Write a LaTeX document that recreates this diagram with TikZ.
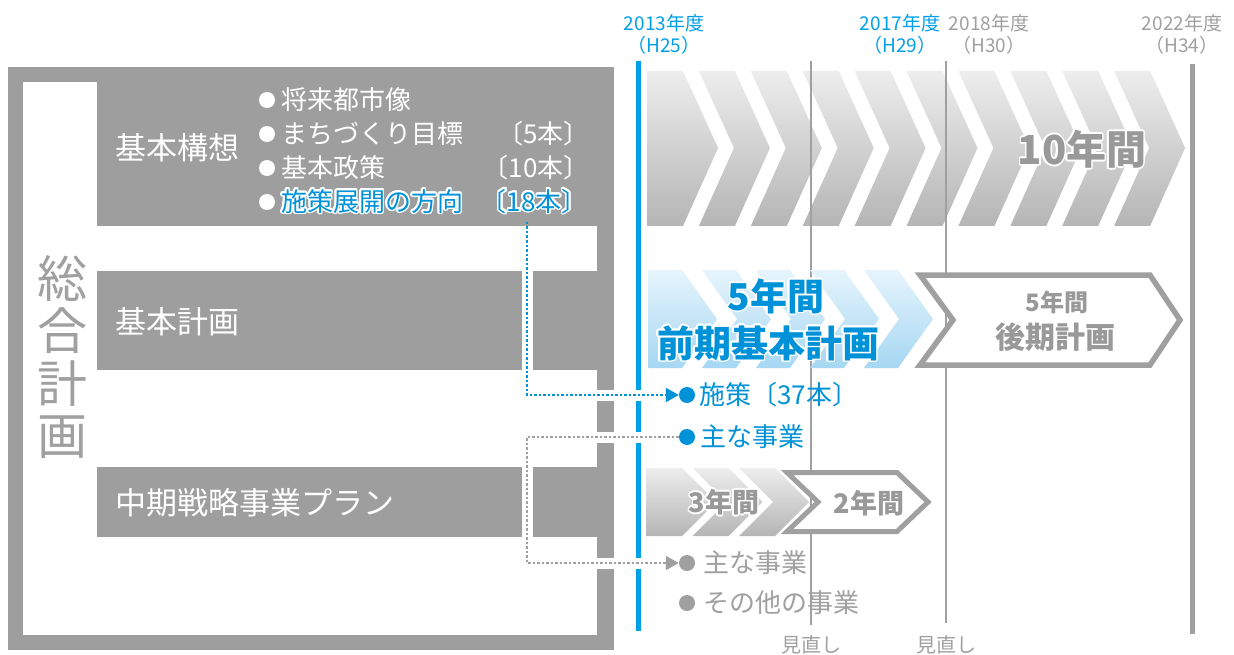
\documentclass[tikz,border=0pt]{standalone}
\usepackage{fontspec}
\setmainfont{Noto Sans CJK JP}
\usepackage[copies]{contour}
\contourlength{1.6pt}
\contournumber{16}
\usetikzlibrary{arrows.meta}
\definecolor{fr}{HTML}{9E9E9E}
\definecolor{tg}{HTML}{A0A0A0}
\definecolor{dg}{HTML}{999999}
\definecolor{bl}{HTML}{00A0E9}
\definecolor{bt}{HTML}{0092D8}
\definecolor{gtop}{HTML}{EDEDED}
\definecolor{gbot}{HTML}{B5B5B5}
\definecolor{btop}{HTML}{E6F4FC}
\definecolor{bbot}{HTML}{A6D7F3}
\newcommand{\FSz}[1]{\fontsize{#1}{#1}\selectfont}
\begin{document}
\begin{tikzpicture}[x=1pt,y=-1pt,
  wt/.style={inner sep=0pt, text=white},
  gl/.style={inner sep=0pt, text=tg},
  bdot/.style={circle, inner sep=0pt, minimum size=16pt},
  halo/.style={white, line width=11pt},
  bdots/.style={bt, line width=2.2pt, dash pattern=on 2.5pt off 2pt, -{Triangle[width=14pt,length=13pt]}},
  gdots/.style={tg, line width=2pt, dash pattern=on 2.5pt off 2pt, -{Triangle[width=14pt,length=13pt]}},
  thin/.style={tg, line width=1.3pt},
  thick/.style={line width=5pt},
  outl/.style={tg, line width=5.5pt, fill=white, line join=miter}
]
\useasboundingbox (0,0) rectangle (1234,655);
\fill[white] (0,0) rectangle (1234,655);

% frame and boxes
\fill[fr] (8,67) rectangle (614,650);
\fill[white] (23,82) rectangle (597,635);
\fill[fr] (97,82) rectangle (597,226);
\fill[fr] (97,271) rectangle (597,370);
\fill[fr] (97,467) rectangle (597,537);

% vertical title
\node[gl, font=\FSz{50}] (s1) at (62,278) {総};
\node[gl, font=\FSz{50}] (s2) at (62,331) {合};
\node[gl, font=\FSz{50}] (s3) at (62,384) {計};
\node[gl, font=\FSz{50}] (s4) at (62,437) {画};

% box texts
\node[wt, font=\FSz{31}, anchor=west] (kk) at (115,148) {基本構想};
\node[wt, font=\FSz{31}, anchor=west] (kp) at (115,322) {基本計画};
\node[wt, font=\FSz{31}, anchor=west] (cp) at (115,503) {中期戦略事業プラン};

% bullets of kihon koso
\node[bdot, fill=white] (d1) at (267,100) {};
\node[wt, font=\FSz{26}, anchor=west] (t1) at (281,100) {将来都市像};
\node[bdot, fill=white] (d2) at (267,134) {};
\node[wt, font=\FSz{26}, anchor=west] (t2) at (281,134) {まちづくり目標};
\node[wt, font=\FSz{26}, anchor=east] (n2) at (590,134) {〔5本〕};
\node[bdot, fill=white] (d3) at (267,168) {};
\node[wt, font=\FSz{26}, anchor=west] (t3) at (281,168) {基本政策};
\node[wt, font=\FSz{26}, anchor=east] (n3) at (590,168) {〔10本〕};
\node[bdot, fill=white] (d4) at (267,202) {};
\node[inner sep=0pt, text=bt, font=\FSz{26}, anchor=west] (t4) at (281,202) {\contour{white}{施策展開の方向}};
\node[inner sep=0pt, text=bt, font=\FSz{26}, anchor=east] (n4) at (588,202) {\contour{white}{〔18本〕}};

% 10-year chevrons
\shade[top color=gtop, bottom color=gbot] (647,71) -- (683,71) -- (718,148) -- (683,226) -- (647,226) -- cycle;
\foreach \i in {1,...,9}{
  \pgfmathsetmacro\xa{647+\i*51.9}
  \shade[top color=gtop, bottom color=gbot] (\xa,71) -- ++(36,0) -- ++(35,77) -- ++(-35,78) -- ++(-36,0) -- ++(35,-78) -- cycle;
}

% timeline lines
\draw[bl, thick] (638,61) -- (638,631);
\draw[thin] (811,61) -- (811,625);
\draw[thin] (946,61) -- (946,623);
\draw[tg, thick] (1192,64) -- (1192,634);

% blue 5-year chevrons
\shade[top color=btop, bottom color=bbot] (648,270) -- (682,270) -- (717,319) -- (682,368) -- (648,368) -- cycle;
\foreach \i in {1,...,4}{
  \pgfmathsetmacro\xa{648+\i*54}
  \shade[top color=btop, bottom color=bbot] (\xa,270) -- ++(34,0) -- ++(35,49) -- ++(-35,49) -- ++(-34,0) -- ++(35,-49) -- cycle;
}
% later plan outline
\draw[outl] (920,275) -- (1150,275) -- (1180,320) -- (1150,365) -- (920,365) -- (953,320) -- cycle;

% small gray chevrons
\shade[top color=gtop, bottom color=gbot] (646,468) -- (682,468) -- (716,502) -- (682,536) -- (646,536) -- cycle;
\foreach \i in {1,2}{
  \pgfmathsetmacro\xa{646+\i*46.5}
  \shade[top color=gtop, bottom color=gbot] (\xa,468) -- ++(36,0) -- ++(34,34) -- ++(-34,34) -- ++(-36,0) -- ++(34,-34) -- cycle;
}
\draw[outl, line width=5pt] (787,472.5) -- (897,472.5) -- (928,502) -- (897,531.5) -- (787,531.5) -- (818,502) -- cycle;

% big labels
\node[inner sep=0pt, text=dg, font=\FSz{40}\bfseries] (ten) at (1082,150) {\contour{white}{10年間}};
\node[inner sep=0pt, text=bt, font=\FSz{37}\bfseries] (f5) at (776,297) {\contour{white}{5年間}};
\node[inner sep=0pt, text=bt, font=\FSz{37}\bfseries] (zk) at (768,344) {\contour{white}{前期基本計画}};
\node[inner sep=0pt, text=dg, font=\FSz{24}\bfseries] (l5) at (1057,302) {5年間};
\node[inner sep=0pt, text=dg, font=\FSz{30}\bfseries] (lk) at (1055,337) {後期計画};
\node[inner sep=0pt, text=dg, font=\FSz{27}\bfseries] (y3) at (724,503) {\contour{white}{3年間}};
\node[inner sep=0pt, text=dg, font=\FSz{27}\bfseries] (y2) at (869,503) {2年間};

% timeline labels
\node[inner sep=0pt, text=bl, font=\FSz{19}] (a1) at (664,23) {2013年度};
\node[inner sep=0pt, text=bl, font=\FSz{19}] (a2) at (664,45) {（H25）};
\node[inner sep=0pt, text=bl, font=\FSz{19}] (b1) at (900,23) {2017年度};
\node[inner sep=0pt, text=bl, font=\FSz{19}] (b2) at (900,45) {（H29）};
\node[gl, font=\FSz{19}] (c1) at (989,23) {2018年度};
\node[gl, font=\FSz{19}] (c2) at (989,45) {（H30）};
\node[gl, font=\FSz{19}] (e1) at (1182,23) {2022年度};
\node[gl, font=\FSz{19}] (e2) at (1182,45) {（H34）};
\node[gl, font=\FSz{20}] (m1) at (811,645) {見直し};
\node[gl, font=\FSz{20}] (m2) at (946,645) {見直し};

% bullets below timeline
\node[bdot, fill=bt] (b37) at (687,395) {};
\node[bdot, fill=bt] (bmain) at (687,437) {};
\node[bdot, fill=tg] (gmain) at (687,563) {};
\node[bdot, fill=tg] (gother) at (687,603) {};

% dotted connectors
\coordinate (bs) at (527,222);
\coordinate (bh) at (527,227);
\coordinate (gc1) at (527,437);
\coordinate (gc2) at (527,563);
\draw[halo] (bh) |- (b37.west);
\draw[halo] (bmain.west) -- (gc1) -- (gc2) -- (gmain.west);
\draw[bdots] (bs) |- (b37.west);
\draw[gdots] (bmain.west) -- (gc1) -- (gc2) -- (gmain.west);

\node[inner sep=0pt, text=bt, font=\FSz{26}, anchor=west] (t37) at (699,395) {施策〔37本〕};
\node[inner sep=0pt, text=bt, font=\FSz{26}, anchor=west] (tm) at (700,437) {主な事業};
\node[gl, font=\FSz{26}, anchor=west] (tgm) at (703,563) {主な事業};
\node[gl, font=\FSz{26}, anchor=west] (tgo) at (703,603) {その他の事業};
\end{tikzpicture}
\end{document}
